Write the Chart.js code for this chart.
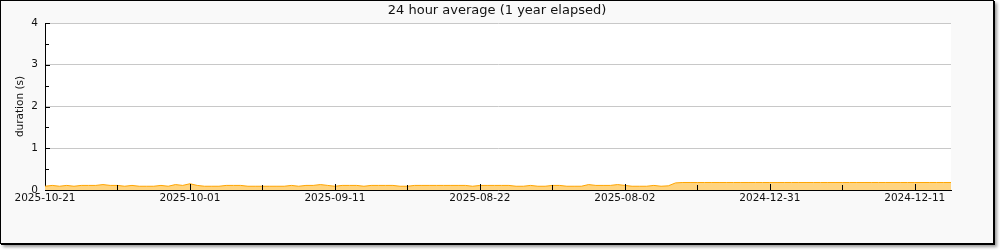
<!DOCTYPE html>
<html>
<head>
<meta charset="utf-8">
<script src="https://cdn.jsdelivr.net/npm/chart.js@4/dist/chart.umd.min.js"></script>
<style>
  body { margin: 0; background: #fff; }
  #frame {
    position: absolute; left: 0; top: 0;
    width: 992px; height: 242px;
    border: 1px solid #000;
    background: #f9f9f9;
    box-shadow: 1px 1px 0 #000, 3px 3px 3px #999;
  }
  canvas { display: block; }
</style>
</head>
<body>
<div id="frame"><canvas id="chart" width="992" height="242"></canvas></div>
<script>
// x tick labels, one every 20 points (newest on the left)
const tickLabels = ['2025-10-21', '2025-10-01', '2025-09-11', '2025-08-22', '2025-08-02', '2024-12-31', '2024-12-11'];

// 24 hour average duration, seconds
const durations = [
  0.09, 0.11, 0.09, 0.11, 0.09, 0.11, 0.11, 0.11, 0.13, 0.11,
  0.11, 0.09, 0.11, 0.09, 0.09, 0.09, 0.11, 0.09, 0.13, 0.11,
  0.15, 0.11, 0.09, 0.09, 0.09, 0.11, 0.11, 0.11, 0.09, 0.09,
  0.09, 0.09, 0.09, 0.09, 0.11, 0.09, 0.11, 0.11, 0.13, 0.11,
  0.09, 0.11, 0.11, 0.11, 0.09, 0.11, 0.11, 0.11, 0.11, 0.09,
  0.09, 0.11, 0.11, 0.11, 0.11, 0.11, 0.11, 0.11, 0.11, 0.09,
  0.11, 0.11, 0.11, 0.11, 0.11, 0.09, 0.09, 0.11, 0.09, 0.09,
  0.11, 0.11, 0.09, 0.09, 0.09, 0.13, 0.11, 0.11, 0.11, 0.13,
  0.11, 0.09, 0.09, 0.09, 0.11, 0.09, 0.10, 0.17, 0.18, 0.18,
  0.18, 0.18, 0.18, 0.18, 0.18, 0.18, 0.18, 0.18, 0.18, 0.18,
  0.18, 0.18, 0.18, 0.18, 0.18, 0.18, 0.18, 0.18, 0.18, 0.18,
  0.18, 0.18, 0.18, 0.18, 0.18, 0.18, 0.18, 0.18, 0.18, 0.18,
  0.18, 0.18, 0.18, 0.18, 0.18, 0.18
];

const labelEvery = 20;
const categories = durations.map((v, i) => i % labelEvery === 0 ? tickLabels[i / labelEvery] : '');

// white plot background
const plotBg = {
  id: 'plotBg',
  beforeDraw(chart) {
    const { ctx, chartArea: a } = chart;
    ctx.save();
    ctx.fillStyle = '#fff';
    ctx.fillRect(a.left, a.top, a.right - a.left, a.bottom - a.top);
    ctx.restore();
  }
};

// rrdtool-style ticks pointing into the plot
const innerTicks = {
  id: 'innerTicks',
  afterDraw(chart) {
    const { ctx, chartArea, scales: { x, y } } = chart;
    ctx.save();
    ctx.strokeStyle = '#000';
    ctx.lineWidth = 1;
    ctx.beginPath();
    for (let i = 10; i < durations.length; i += 10) {
      const px = Math.round(x.getPixelForValue(i)) + 0.5;
      ctx.moveTo(px, chartArea.bottom);
      ctx.lineTo(px, chartArea.bottom - (i % labelEvery === 0 ? 6 : 5));
    }
    for (let v = 0.5; v <= 4; v += 0.5) {
      const py = Math.round(y.getPixelForValue(v)) + 0.5;
      ctx.moveTo(chartArea.left, py);
      ctx.lineTo(chartArea.left + (v % 1 === 0 ? 5 : 4), py);
    }
    ctx.stroke();
    ctx.restore();
  }
};

const font = { family: 'DejaVu Sans', size: 10.5 };

new Chart(document.getElementById('chart').getContext('2d'), {
  type: 'line',
  data: {
    labels: categories,
    datasets: [{
      data: durations,
      borderColor: '#ffa500',
      backgroundColor: '#ffd480',
      borderWidth: 1,
      fill: 'origin',
      pointRadius: 0,
      tension: 0
    }]
  },
  options: {
    responsive: false,
    animation: false,
    layout: { padding: 0 },
    plugins: {
      legend: { display: false },
      tooltip: { enabled: false },
      title: {
        display: true,
        text: '24 hour average (1 year elapsed)',
        color: '#111',
        font: { family: 'DejaVu Sans', size: 13, weight: 'normal' },
        padding: { top: 1.7, bottom: 4.7 }
      }
    },
    scales: {
      x: {
        offset: false,
        grid: { display: false, drawTicks: false },
        border: { display: true, color: '#000', width: 1 },
        ticks: {
          autoSkip: false, maxRotation: 0, padding: 2, color: '#111', font,
          callback: (v, i) => categories[i]
        },
        afterFit: s => { s.height = 53; }
      },
      y: {
        min: 0, max: 4,
        grid: { color: '#c8c8c8', drawTicks: false },
        border: { display: true, color: '#000', width: 1 },
        ticks: { stepSize: 1, padding: 7, color: '#111', font },
        title: { display: true, text: 'duration (s)', color: '#111', font, padding: { top: 13, bottom: 0 } },
        afterFit: s => { s.width = 44; }
      },
      yRight: {
        position: 'right', display: true, min: 0, max: 4,
        grid: { display: false, drawTicks: false },
        border: { display: false },
        ticks: { display: false },
        afterFit: s => { s.width = 42; }
      }
    }
  },
  plugins: [plotBg, innerTicks]
});
</script>
</body>
</html>
